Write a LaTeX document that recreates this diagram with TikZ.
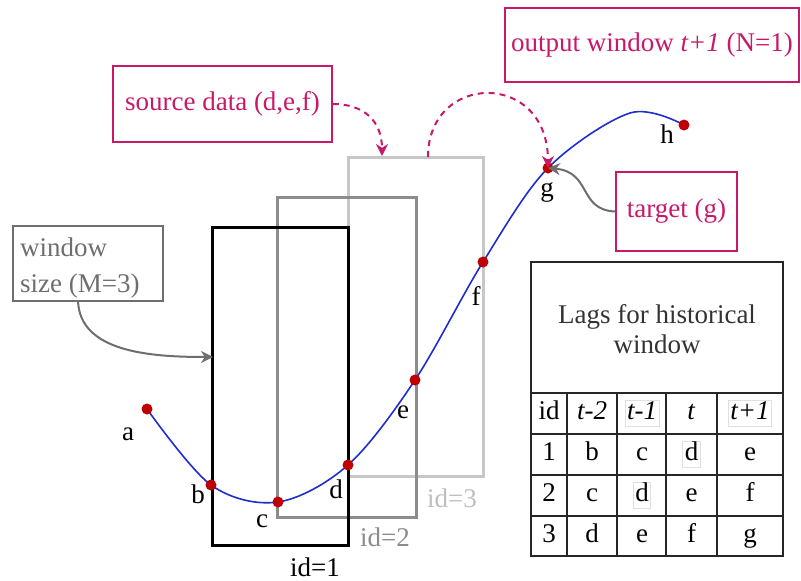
\documentclass[tikz,border=0pt]{standalone}
\usepackage{fontspec}
\setmainfont{Liberation Serif}
\usetikzlibrary{arrows.meta}
\definecolor{mag}{RGB}{200,25,105}
\definecolor{ptred}{RGB}{190,0,0}
\definecolor{curveblue}{RGB}{30,45,205}
\definecolor{wingray}{RGB}{110,110,110}
\tikzset{
  every node/.style={font=\fontsize{27}{30}\selectfont},
  magbox/.style={draw=mag, line width=1.6pt, text=mag, inner sep=0pt},
  win/.style={line width=3pt},
  pt/.style={circle, fill=ptred, inner sep=0pt, minimum size=11pt},
  lbl/.style={text=black},
  magarrow/.style={draw=mag, line width=2pt, dashed, dash pattern=on 6pt off 5pt, -{Stealth[length=12pt,width=12pt]}},
  grayarrow/.style={draw=wingray, line width=2pt, -{Stealth[length=12pt,width=12pt]}},
  tline/.style={line width=1.8pt, draw=black!85},
  cell/.style={text height=18pt, text depth=6pt, inner sep=0pt},
  hl/.style={cell, draw=black!12, line width=0.8pt, inner xsep=2pt, inner ysep=1pt},
}
\begin{document}
\begin{tikzpicture}[x=1pt,y=-1pt]
\useasboundingbox (0,0) rectangle (801,581);

% windows
\draw[win, draw=black!22] (348,157) rectangle (483,476);
\draw[win, draw=black!45] (277,197) rectangle (416,517);
\draw[win, draw=black] (212,227) rectangle (348,545);
\node[text=black!25] (id3) at (452,498) {id=3};
\node[text=black!45] (id2) at (385,537) {id=2};
\node[text=black] (id1) at (315,567) {id=1};

% curve points
\coordinate (pa) at (147,409);
\coordinate (pb) at (211,485);
\coordinate (pc) at (278,502);
\coordinate (pd) at (348,465);
\coordinate (pe) at (415,380);
\coordinate (pf) at (483,262);
\coordinate (pg) at (548,168);
\coordinate (pk) at (630,113);
\coordinate (ph) at (684,125);
\draw[curveblue, line width=1.6pt] plot[smooth, tension=0.55] coordinates {(pa) (pb) (pc) (pd) (pe) (pf) (pg) (pk) (ph)};
\foreach \p in {pa,pb,pc,pd,pe,pf,pg,ph} \node[pt] at (\p) {};

\node[lbl] (la) at (128,434) {a};
\node[lbl] (lb) at (198,494) {b};
\node[lbl] (lc) at (262,521) {c};
\node[lbl] (ld) at (336,489) {d};
\node[lbl] (le) at (403,412) {e};
\node[lbl] (lf) at (476,296) {f};
\node[lbl] (lg) at (547,192) {g};
\node[lbl] (lh) at (667,134) {h};

% boxes
\node[magbox, minimum width=294pt, minimum height=74pt] (out) at (652,45) {output window \textit{t+1} (N=1)};
\node[magbox, minimum width=219pt, minimum height=76pt] (src) at (222.5,104) {source data (d,e,f)};
\node[magbox, minimum width=121pt, minimum height=79pt] (tgt) at (676.5,211.5) {target (g)};
\node[draw=wingray, line width=1.6pt, minimum width=150pt, minimum height=75pt, inner sep=0pt] (ws) at (88,263.5) {};
\node[text=wingray, anchor=base west, inner sep=0pt] (ws1) at (20,256) {window};
\node[text=wingray, anchor=base west, inner sep=0pt] (ws2) at (20,292) {size (M=3)};

% arrows
\coordinate (srcend) at (382,156);
\coordinate (id3top) at (428,157);
\coordinate (wsstart) at (78,301);
\coordinate (wsend) at (213,357);
\draw[magarrow] (src.east) .. controls (365,104) and (382,122) .. (srcend);
\draw[magarrow] (id3top) .. controls (428,72) and (548,70) .. (pg);
\draw[grayarrow] (wsstart) .. controls (80,352) and (150,357) .. (wsend);
\draw[grayarrow] (tgt.west) .. controls (578,210) and (592,172) .. (pg);

% table
\draw[tline] (531,262) rectangle (783,556);
\draw[tline] (531,393) -- (783,393);
\draw[tline] (531,434) -- (783,434);
\draw[tline] (531,475) -- (783,475);
\draw[tline] (531,516) -- (783,516);
\foreach \x in {567,617,666,717} \draw[tline] (\x,393) -- (\x,556);
\node[text=black!80, align=center] (thead) at (657,329) {Lags for historical\\window};

\node[cell] (h0) at (549,413) {id};
\node[cell] (h1) at (592,413) {\textit{t-2}};
\node[hl] (h2) at (642,413) {\textit{t-1}};
\node[cell] (h3) at (691.5,413) {\textit{t}};
\node[hl] (h4) at (750,413) {\textit{t+1}};

\node[cell] (r10) at (549,454) {1};
\node[cell] (r11) at (592,454) {b};
\node[cell] (r12) at (642,454) {c};
\node[hl] (r13) at (691.5,454) {d};
\node[cell] (r14) at (750,454) {e};

\node[cell] (r20) at (549,495) {2};
\node[cell] (r21) at (592,495) {c};
\node[hl] (r22) at (642,495) {d};
\node[cell] (r23) at (691.5,495) {e};
\node[cell] (r24) at (750,495) {f};

\node[cell] (r30) at (549,536) {3};
\node[cell] (r31) at (592,536) {d};
\node[cell] (r32) at (642,536) {e};
\node[cell] (r33) at (691.5,536) {f};
\node[cell] (r34) at (750,536) {g};
\end{tikzpicture}
\end{document}
